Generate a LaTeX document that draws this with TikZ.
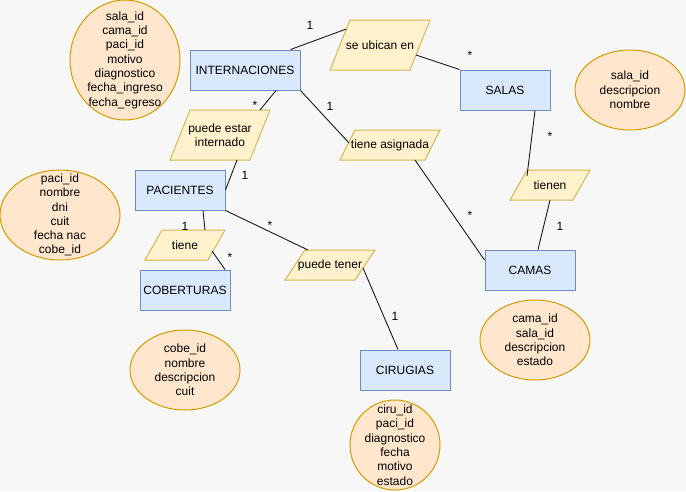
\documentclass[tikz,border=0pt]{standalone}
\usepackage{fontspec}
\setmainfont{Liberation Sans}
\usetikzlibrary{shapes.geometric,calc}
\definecolor{bg}{HTML}{F7F7F7}
\definecolor{entfill}{HTML}{DAE8FC}
\definecolor{entdraw}{HTML}{6C8EBF}
\definecolor{relfill}{HTML}{FFF2CC}
\definecolor{reldraw}{HTML}{D6B656}
\definecolor{attfill}{HTML}{FFE6CC}
\definecolor{attdraw}{HTML}{D79B00}
\definecolor{edgecol}{HTML}{1A1A1A}
% name, center x, center y, width, height, slant, text
\newcommand\relnode[7]{%
  \filldraw[relshape] ($(#2,#3)+(-#4/2,#5/2)$) -- ++(#6,-#5) -- ++(#4-#6,0) -- ++(-#6,#5) -- cycle;
  \node[reltext, minimum width=#4pt, minimum height=#5pt] (#1) at (#2,#3) {#7};}
\begin{document}
\begin{tikzpicture}[x=1pt,y=-1pt,
  font=\fontsize{12}{14.3}\selectfont,
  entity/.style={draw=entdraw, fill=entfill, line width=1pt, minimum width=90pt, minimum height=40pt, inner sep=0pt},
  relshape/.style={draw=reldraw, fill=relfill, line width=1pt, line join=miter},
  reltext/.style={inner sep=0pt, align=center},
  attr/.style={ellipse, draw=attdraw, fill=attfill, line width=1pt, inner sep=0pt},
  conn/.style={draw=edgecol, line width=0.9pt},
  card/.style={inner sep=0pt, text=black}]
\useasboundingbox (0,0) rectangle (686,491);
\fill[bg] (0,0) rectangle (686,491);

% attribute ellipses
\node[attr, minimum width=110pt, minimum height=120pt,
  label={[align=center]center:sala\_id\\cama\_id\\paci\_id\\motivo\\diagnostico\\fecha\_ingreso\\fecha\_egreso}] (ainter) at (125,60) {};
\node[attr, minimum width=120pt, minimum height=90pt,
  label={[align=center]center:paci\_id\\nombre\\dni\\cuit\\fecha nac\\cobe\_id}] (apac) at (60,215) {};
\node[attr, minimum width=110pt, minimum height=80pt,
  label={[align=center]center:sala\_id\\descripcion\\nombre}] (asalas) at (630,90) {};
\node[attr, minimum width=110pt, minimum height=80pt,
  label={[align=center]center:cobe\_id\\nombre\\descripcion\\cuit}] (acob) at (185,370) {};
\node[attr, minimum width=110pt, minimum height=80pt,
  label={[align=center]center:cama\_id\\sala\_id\\descripcion\\estado}] (acamas) at (535,340) {};
\node[attr, minimum width=90pt, minimum height=90pt,
  label={[align=center]center:ciru\_id\\paci\_id\\diagnostico\\fecha\\motivo\\estado}] (aciru) at (395,445) {};

% entities
\node[entity, minimum width=110pt] (inter) at (245,70) {INTERNACIONES};
\node[entity] (pac) at (180,190) {PACIENTES};
\node[entity] (salas) at (505,90) {SALAS};
\node[entity] (cob) at (185,290) {COBERTURAS};
\node[entity] (camas) at (530,270) {CAMAS};
\node[entity] (ciru) at (405,370) {CIRUGIAS};

% relationships (parallelograms)
\relnode{ubic}{380}{45}{100}{50}{20}{se ubican en}
\relnode{pei}{220}{135}{100}{50}{20}{puede estar\\internado}
\relnode{asig}{390}{145}{100}{30}{15}{tiene asignada}
\relnode{tienen}{550}{185}{80}{30}{17}{tienen}
\relnode{tiene}{185}{245}{80}{30}{17}{tiene}
\relnode{ptener}{330}{265}{90}{30}{20}{puede tener}

% connectors
\draw[conn] ([shift={(-10,0)}]inter.north east) -- ([shift={(-33.6,-16)}]ubic.center);
\draw[conn] ([shift={(36,10)}]ubic.center) -- (salas.north west);
\draw[conn] ([shift={(31,0)}]inter.south) -- ([shift={(40,-25)}]pei.center);
\draw[conn] ([shift={(17,25)}]pei.center) -- (pac.east);
\draw[conn] (inter.south east) -- ([shift={(-41,-2)}]asig.center);
\draw[conn] ([shift={(25,15)}]asig.center) -- ([shift={(0,-10)}]camas.west);
\draw[conn] ([shift={(30,0)}]salas.south) -- ([shift={(-23,-9)}]tienen.center);
\draw[conn] (tienen.south) -- ([shift={(8,0)}]camas.north);
\draw[conn] ([shift={(23,0)}]pac.south) -- ([shift={(20,-15)}]tiene.center);
\draw[conn] ([shift={(27,6)}]tiene.center) -- ([shift={(40,0)}]cob.north);
\draw[conn] (pac.south east) -- ([shift={(-22,-15)}]ptener.center);
\draw[conn] ([shift={(33,3)}]ptener.center) -- ([shift={(-7,0)}]ciru.north);

% cardinalities
\node[card] (k1) at (310,25) {1};
\node[card] (k2) at (470,55.5) {*};
\node[card] (k3) at (255,105.5) {*};
\node[card] (k4) at (245,175) {1};
\node[card] (k5) at (330,106) {1};
\node[card] (k6) at (470,215.5) {*};
\node[card] (k7) at (550,136.5) {*};
\node[card] (k8) at (560,226) {1};
\node[card] (k9) at (185,226) {1};
\node[card] (k10) at (230,257) {*};
\node[card] (k11) at (270,225.5) {*};
\node[card] (k12) at (395,316) {1};
\end{tikzpicture}
\end{document}
